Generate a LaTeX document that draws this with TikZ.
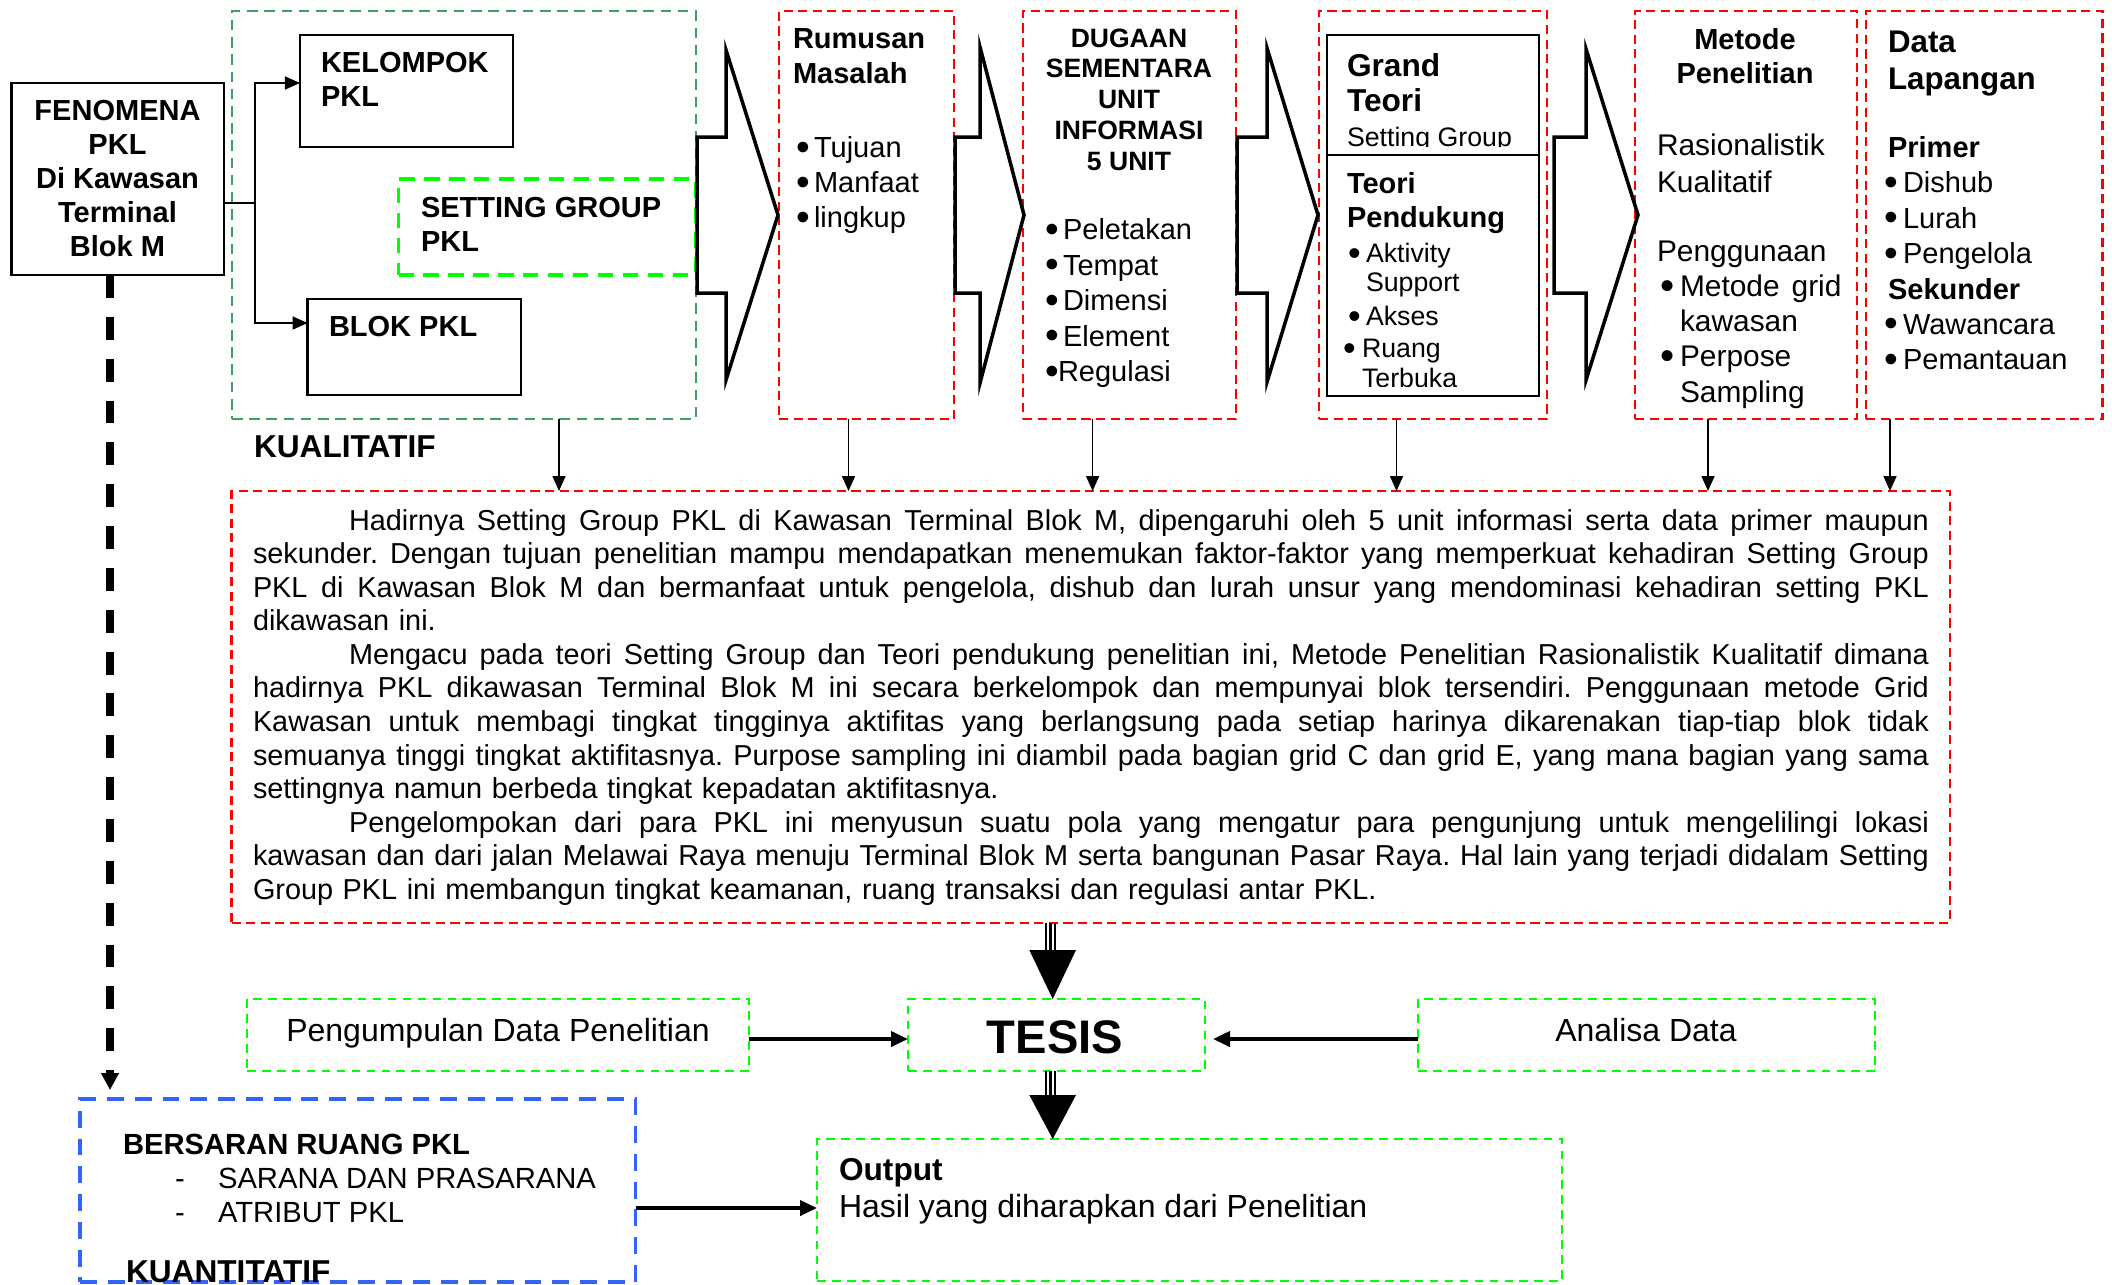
\documentclass[tikz,border=0pt]{standalone}
\usepackage{fontspec}
\setmainfont{Liberation Sans}
\usetikzlibrary{arrows.meta,fit}
\definecolor{dkgreen}{RGB}{60,160,100}
\definecolor{ltgreen}{RGB}{0,255,0}
\definecolor{myred}{RGB}{255,0,0}
\definecolor{myblue}{RGB}{50,100,245}
\newcommand\fsz[2]{\fontsize{#1pt}{#2pt}\selectfont}
\newcommand\bul[1][0.18cm]{\makebox[#1][l]{\raisebox{-0.09em}{\scalebox{1.35}{•}}}}
% one fully justified line of the summary paragraph
\newcommand\jl[1]{\noindent\hbox to 16.75cm{\spaceskip=0.278em plus 1fil\relax #1}}

\begin{document}
\begin{tikzpicture}[x=0.01cm,y=-0.01cm,
  every node/.style={inner sep=0pt,outer sep=0pt},
  plain/.style={draw=black,line width=0.63pt},
  redbox/.style={draw=myred,line width=0.72pt,dash pattern=on 2.6pt off 1.55pt},
  grpbox/.style={draw=dkgreen,line width=0.6pt,dash pattern=on 3pt off 1.9pt},
  setbox/.style={draw=ltgreen,line width=1.1pt,dash pattern=on 4.3pt off 2.8pt},
  lgbox/.style={draw=ltgreen,line width=0.72pt,dash pattern=on 2.45pt off 1.8pt},
  bluebox/.style={draw=myblue,line width=0.9pt,dash pattern=on 4.8pt off 3.1pt},
  chev/.style={draw=black,line width=1pt,line join=miter},
  link/.style={draw=black,line width=0.45pt,-{Triangle[length=0.15cm,width=0.13cm]}},
  flow/.style={draw=black,line width=1.1pt,-{Triangle[length=0.17cm,width=0.15cm]}},
  trunk/.style={draw=black,line width=2pt,dash pattern=on 6.5pt off 5.4pt,-{Triangle[length=0.17cm,width=0.17cm]}},
  shaft/.style={draw=black,line width=0.7pt},
  txt/.style={align=left,anchor=north west},
]
\useasboundingbox (0,0) rectangle (2112,1284);
\fill[white] (0,0) rectangle (2112,1284);

% ---------- top row: boxes ----------
\node[plain,fit={(11.5,83)(224,275)}] (fen) {};
\node[grpbox,fit={(232,11)(695.6,419)}] (grp) {};
\node[plain,fit={(300,35)(513,147)}] (kel) {};
\node[setbox,fit={(398.5,179)(695.6,275)}] (set) {};
\node[plain,fit={(307.6,299)(521,395)}] (blok) {};
\node[redbox,fit={(779,11)(954,419)}] (rum) {};
\node[redbox,fit={(1023,11)(1236,419)}] (dug) {};
\node[redbox,fit={(1319,11)(1547,419)}] (grd) {};
\node[plain,fit={(1327,35)(1539,396)}] (grdin) {};
\draw[plain] (grdin.west |- 0,155) -- (grdin.east |- 0,155);
\node[redbox,fit={(1635,11)(1857,419)}] (met) {};
\node[redbox,fit={(1866,11)(2102.5,419)}] (dat) {};

% ---------- block arrows between the columns ----------
\draw[chev] (697,137) -- (726,137) -- (726,50) -- (778,215) -- (726,380) -- (726,293) -- (697,293) -- cycle;
\draw[chev] (955,137) -- (980,137) -- (980,47) -- (1024,215) -- (980,383) -- (980,293) -- (955,293) -- cycle;
\draw[chev] (1237,137) -- (1267,137) -- (1267,48) -- (1318,215) -- (1267,382) -- (1267,293) -- (1237,293) -- cycle;
\draw[chev] (1554,137) -- (1586,137) -- (1586,49) -- (1638,215) -- (1586,380) -- (1586,293) -- (1554,293) -- cycle;

% ---------- top row: texts ----------
\node[align=center,anchor=north,font=\bfseries\fsz{8.25}{9.67}] (fent) at (117.5,100.6)
  {FENOMENA\\PKL\\Di Kawasan\\Terminal\\Blok M};
\node[txt,font=\bfseries\fsz{8.25}{9.67}] (kelt) at (321,52.6) {KELOMPOK\\PKL};
\node[txt,font=\bfseries\fsz{8.25}{9.67}] (sett) at (421,197.6) {SETTING GROUP\\PKL};
\node[txt,font=\bfseries\fsz{8.25}{9.67}] (blokt) at (329,316.6) {BLOK PKL};
\node[txt,font=\bfseries\fsz{9}{10}] (kual) at (254,435.6) {KUALITATIF};

\node[txt,font=\fsz{8.25}{9.96}] (rumt) at (793,28.6)
  {\textbf{Rumusan}\\\textbf{Masalah}\\[11.1pt]
   \hspace*{0.03cm}\bul Tujuan\\\hspace*{0.03cm}\bul Manfaat\\\hspace*{0.03cm}\bul lingkup};

\node[align=center,anchor=north,font=\bfseries\fsz{7.55}{8.75}] (dugt) at (1129,28.5)
  {DUGAAN\\SEMENTARA\\UNIT\\INFORMASI\\5 UNIT};
\node[txt,font=\fsz{8.25}{10.1}] (dugl) at (1045,218.6)
  {\bul Peletakan\\\bul Tempat\\\bul Dimensi\\\bul Element\\\bul[0.13cm]Regulasi};

\begin{scope}
  \clip (1327,35) rectangle (1539,146);
  \node[txt,font=\bfseries\fsz{9}{9.96}] (grdt) at (1347,53.6)
    {Grand\\Teori\\{\mdseries\fsz{7.6}{9.96}Setting Group}};
\end{scope}
\begin{scope}
  \clip (1327,155) rectangle (1539,386);
  \node[txt,font=\fsz{7.6}{9.67}] (grdl) at (1347,172.6)
    {{\bfseries\fsz{8.25}{9.67}Teori}\\{\bfseries\fsz{8.25}{9.67}Pendukung}\\[0.3pt]
     \hspace*{0.01cm}\bul Aktivity\\[-1.42pt]
     \hspace*{0.19cm}Support\\
     \hspace*{0.01cm}\bul Akses\\[-0.57pt]
     \hspace*{-0.04cm}\bul[0.19cm]Ruang\\[-1.14pt]
     \hspace*{0.15cm}Terbuka};
\end{scope}

\node[align=center,anchor=north,font=\bfseries\fsz{8.25}{9.67}] (mett) at (1745,28.6) {Metode\\Penelitian};
\node[txt,font=\fsz{8.5}{9.96}] (metl) at (1657,134.2)
  {Rasionalistik\\[0.57pt]Kualitatif\\[9.66pt]Penggunaan\\
   \hspace*{0.03cm}\bul[0.2cm]Metode\hspace{0.4em}grid\\\hspace*{0.23cm}kawasan\\
   \hspace*{0.03cm}\bul[0.2cm]Perpose\\\hspace*{0.23cm}Sampling};

\node[txt,font=\bfseries\fsz{8.9}{10.5}] (datt) at (1888,30.7) {Data\\Lapangan};
\node[txt,font=\fsz{8.25}{10.05}] (datl) at (1884,136.6)
  {\hspace*{0.04cm}\textbf{Primer}\\\bul[0.19cm]Dishub\\\bul[0.19cm]Lurah\\\bul[0.19cm]Pengelola\\
   \hspace*{0.04cm}\textbf{Sekunder}\\\bul[0.19cm]Wawancara\\\bul[0.19cm]Pemantauan};

% ---------- connector from the phenomenon to its two groups ----------
\coordinate (fj) at (255,203);
\draw[plain,line width=0.45pt] (fen.east |- fj) -- (fj);
\draw[link] (fj) |- (kel.west |- 0,83);
\draw[link] (fj) |- (blok.west |- 0,323);

% ---------- summary paragraph ----------
\node[redbox,fit={(231.5,491)(1950,923)}] (par) {};
\node[txt,text width=16.75cm,font=\fsz{8.2}{9.53}] (ptxt) at (253,509.5) {\parindent=0pt\frenchspacing
\jl{\hspace*{0.96cm}Hadirnya Setting Group PKL di Kawasan Terminal Blok M, dipengaruhi oleh 5 unit informasi serta data primer maupun}\\
\jl{sekunder. Dengan tujuan penelitian mampu mendapatkan menemukan faktor-faktor yang memperkuat kehadiran Setting Group}\\
\jl{PKL di Kawasan Blok M dan bermanfaat untuk pengelola, dishub dan lurah unsur yang mendominasi kehadiran setting PKL}\\
\noindent dikawasan ini.\\
\jl{\hspace*{0.96cm}Mengacu pada teori Setting Group dan Teori pendukung penelitian ini, Metode Penelitian Rasionalistik Kualitatif dimana}\\
\jl{hadirnya PKL dikawasan Terminal Blok M ini secara berkelompok dan mempunyai blok tersendiri. Penggunaan metode Grid}\\
\jl{Kawasan untuk membagi tingkat tingginya aktifitas yang berlangsung pada setiap harinya dikarenakan tiap-tiap blok tidak}\\
\jl{semuanya tinggi tingkat aktifitasnya. Purpose sampling ini diambil pada bagian grid C dan grid E, yang mana bagian yang sama}\\
\noindent settingnya namun berbeda tingkat kepadatan aktifitasnya.\\
\jl{\hspace*{0.96cm}Pengelompokan dari para PKL ini menyusun suatu pola yang mengatur para pengunjung untuk mengelilingi lokasi}\\
\jl{kawasan dan dari jalan Melawai Raya menuju Terminal Blok M serta bangunan Pasar Raya. Hal lain yang terjadi didalam Setting}\\
\noindent Group PKL ini membangun tingkat keamanan, ruang transaksi dan regulasi antar PKL.};

\foreach \xx/\src in {559/grp,848.5/rum,1092.6/dug,1396.5/grd,1708/met,1890/dat}
  \draw[link] (\xx,0 |- \src.south) -- (\xx,0 |- par.north);

% ---------- bottom part ----------
\node[lgbox,fit={(247,999)(749,1071)}] (peng) {};
\node[lgbox,fit={(908,999)(1205,1071)}] (tes) {};
\node[lgbox,fit={(1418,999)(1875,1071)}] (ana) {};
\node[bluebox,fit={(80,1099)(635.5,1282)}] (blue) {};
\node[lgbox,fit={(817,1139)(1562,1281)}] (out) {};

\node[anchor=base,font=\fsz{9.1}{10}] (pengt) at (498,1041.5) {Pengumpulan Data Penelitian};
\node[anchor=base,font=\bfseries\fsz{13.4}{15}] (test) at (1055,1053.8) {TESIS};
\node[anchor=base,font=\fsz{9.1}{10}] (anat) at (1646,1041.5) {Analisa Data};
\node[txt,font=\fsz{8.3}{9.67}] (bert) at (123,1134.5)
  {\textbf{BERSARAN RUANG PKL}\\
   \hspace*{0.52cm}\makebox[0.43cm][l]{-}SARANA DAN PRASARANA\\
   \hspace*{0.52cm}\makebox[0.43cm][l]{-}ATRIBUT PKL};
\node[anchor=base west,font=\bfseries\fsz{9}{10}] (kuan) at (126,1282.5) {KUANTITATIF};
\node[txt,font=\fsz{9.1}{10.5}] (outt) at (839,1158.7)
  {{\bfseries\fsz{9}{10.5}Output}\\Hasil yang diharapkan dari Penelitian};

% dashed trunk from the phenomenon to the quantitative part
\draw[trunk,shorten >=0.09cm] (110,0 |- fen.south) -- (110,0 |- blue.north);

% horizontal feeds into the thesis and the output
\draw[flow] (peng.east |- 0,1039) -- (tes.west |- 0,1039);
\draw[flow,shorten >=0.08cm] (ana.west |- 0,1039) -- (tes.east |- 0,1039);
\draw[flow] (blue.east |- 0,1208) -- (out.west |- 0,1208);

% heavy down arrows: paragraph -> thesis -> output
\foreach \xx in {1046.2,1050.7,1055.2}
  \draw[shaft] (\xx,0 |- par.south) -- (\xx,950);
\fill[black] (1029.3,950) -- (1076,950) -- (1052.7,0 |- tes.north) -- cycle;
\foreach \xx in {1046.2,1050.7,1055.2}
  \draw[shaft] (\xx,0 |- tes.south) -- (\xx,1095);
\fill[black] (1029.3,1095) -- (1076,1095) -- (1052.7,0 |- out.north) -- cycle;
\end{tikzpicture}
\end{document}
